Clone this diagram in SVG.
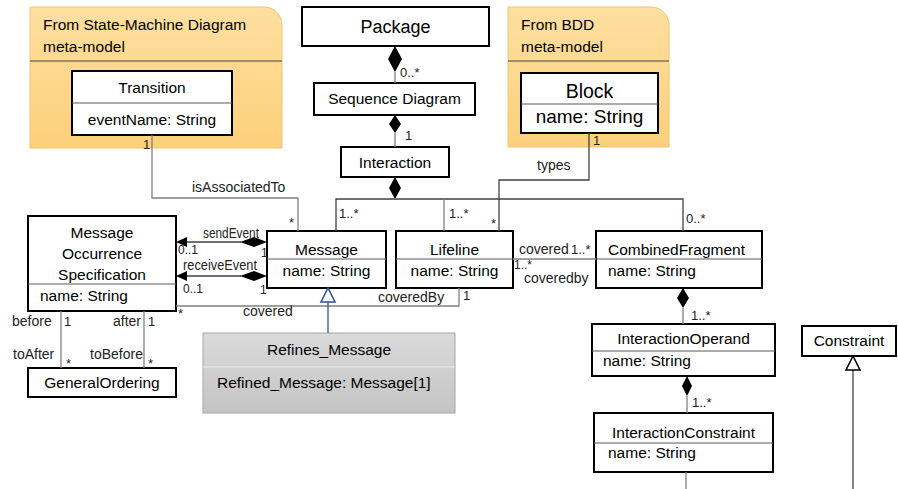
<svg xmlns="http://www.w3.org/2000/svg" width="898" height="489" viewBox="0 0 898 489">
<defs>
<linearGradient id="og" x1="0" y1="0" x2="0" y2="1">
<stop offset="0" stop-color="#fedfa0"/><stop offset="1" stop-color="#fcd07a"/>
</linearGradient>
<linearGradient id="gg" x1="0" y1="0" x2="0" y2="1">
<stop offset="0" stop-color="#dadada"/><stop offset="1" stop-color="#c4c4c4"/>
</linearGradient>
<style>
.cls{fill:#fff;stroke:#000;stroke-width:2}
.dv{stroke:#595959;stroke-width:1}
.pk{fill:url(#og);stroke:#f3c56c;stroke-width:1}
.t{font-family:"Liberation Sans",Arial,sans-serif;font-size:15.5px;fill:#000}
.c{text-anchor:middle}
.l{font-family:"Liberation Sans",Arial,sans-serif;font-size:14px;fill:#222}
.n{font-family:"Liberation Sans",Arial,sans-serif;font-size:13px;fill:#222}
.s{font-family:"Liberation Sans",Arial,sans-serif;font-size:12px;fill:#222}
.ln{fill:none;stroke:#808080;stroke-width:1.3}
.dk{stroke:#404040}
.dia{fill:#000;stroke:none}
</style>
</defs>

<g id="pkg-statemachine">
<path class="pk" d="M30,7 H264 A18,18 0 0 1 282,25 V148 H30 Z"/>
<line x1="30" y1="61" x2="282" y2="61" stroke="#404040" stroke-width="1"/>
<text class="t" x="43" y="30">From State-Machine Diagram</text>
<text class="t" x="43" y="52">meta-model</text>
</g>
<g id="pkg-bdd">
<path class="pk" d="M508,7 H651 A18,18 0 0 1 669,25 V147 H508 Z"/>
<line x1="508" y1="61" x2="669" y2="61" stroke="#404040" stroke-width="1"/>
<text class="t" x="521" y="30">From BDD</text>
<text class="t" x="521" y="52">meta-model</text>
</g>

<g id="Transition">
<rect class="cls" x="72" y="71" width="160" height="64"/>
<line class="dv" x1="72" y1="103" x2="232" y2="103"/>
<text class="t c" x="152" y="93">Transition</text>
<text class="t c" x="152" y="125">eventName: String</text>
</g>
<g id="Block">
<rect class="cls" x="521" y="73" width="137" height="60"/>
<line class="dv" x1="521" y1="104" x2="658" y2="104"/>
<text class="t c" x="589.5" y="98" style="font-size:19.5px">Block</text>
<text class="t c" x="589.5" y="123" style="font-size:19px">name: String</text>
</g>
<g id="Package">
<rect class="cls" x="302" y="7" width="187" height="39"/>
<text class="t c" x="395.5" y="33" style="font-size:18px">Package</text>
</g>
<g id="SequenceDiagram">
<rect class="cls" x="314" y="83" width="161" height="32"/>
<text class="t c" x="394.5" y="104">Sequence Diagram</text>
</g>
<g id="Interaction">
<rect class="cls" x="341" y="147" width="108" height="30"/>
<text class="t c" x="395" y="168">Interaction</text>
</g>
<g id="Message">
<rect class="cls" x="267" y="231" width="119" height="57"/>
<line class="dv" x1="267" y1="259" x2="386" y2="259"/>
<text class="t c" x="326.5" y="255">Message</text>
<text class="t c" x="326.5" y="276">name: String</text>
</g>
<g id="Lifeline">
<rect class="cls" x="396" y="231" width="117" height="57"/>
<line class="dv" x1="396" y1="259" x2="513" y2="259"/>
<text class="t c" x="454.5" y="255">Lifeline</text>
<text class="t c" x="454.5" y="276">name: String</text>
</g>
<g id="CombinedFragment">
<rect class="cls" x="596" y="231" width="166" height="57"/>
<line class="dv" x1="596" y1="259" x2="762" y2="259"/>
<text class="t" x="608" y="255">CombinedFragment</text>
<text class="t" x="608" y="276">name: String</text>
</g>
<g id="MessageOccurrenceSpecification">
<rect class="cls" x="28" y="216" width="148" height="95"/>
<line class="dv" x1="28" y1="284" x2="176" y2="284"/>
<text class="t c" x="102" y="238">Message</text>
<text class="t c" x="102" y="259">Occurrence</text>
<text class="t c" x="102" y="280">Specification</text>
<text class="t" x="40" y="301">name: String</text>
</g>
<g id="GeneralOrdering">
<rect class="cls" x="28" y="368" width="148" height="29"/>
<text class="t c" x="102" y="388">GeneralOrdering</text>
</g>
<g id="Refines_Message">
<rect x="203" y="333" width="252" height="80" fill="url(#gg)" stroke="#a6a6a6" stroke-width="1"/>
<line x1="203" y1="367" x2="455" y2="367" stroke="#ededed" stroke-width="1"/>
<text class="t c" x="329" y="355">Refines_Message</text>
<text class="t" x="217" y="388">Refined_Message: Message[1]</text>
</g>
<g id="InteractionOperand">
<rect class="cls" x="592" y="324" width="183" height="52"/>
<line class="dv" x1="592" y1="351" x2="775" y2="351"/>
<text class="t c" x="683.5" y="344">InteractionOperand</text>
<text class="t" x="603" y="366">name: String</text>
</g>
<g id="InteractionConstraint">
<rect class="cls" x="594" y="413" width="179" height="59"/>
<line class="dv" x1="594" y1="443" x2="773" y2="443"/>
<text class="t c" x="683.5" y="438">InteractionConstraint</text>
<text class="t" x="608" y="458">name: String</text>
</g>
<g id="Constraint">
<rect class="cls" x="802" y="326" width="94" height="30"/>
<text class="t c" x="849" y="346">Constraint</text>
</g>

<g id="connectors">
<!-- Package - Sequence Diagram -->
<line class="ln" x1="395" y1="72" x2="395" y2="83"/>
<polygon class="dia" points="395,46 402,59 395,72 388,59"/>
<text class="n" x="400" y="77">0..*</text>
<!-- Sequence Diagram - Interaction -->
<line class="ln" x1="395" y1="133" x2="395" y2="147"/>
<polygon class="dia" points="395,115 401,124 395,133 389,124"/>
<text class="n" x="405" y="140">1</text>
<!-- Interaction composition -->
<polygon class="dia" points="395,177 401,188 395,199 389,188"/>
<polyline class="ln dk" points="336,231 336,199 683,199 683,231"/>
<line class="ln" x1="444" y1="199" x2="444" y2="231"/>
<text class="n" x="339" y="218">1..*</text>
<text class="n" x="449" y="218">1..*</text>
<text class="n" x="686" y="223">0..*</text>
<!-- isAssociatedTo -->
<polyline class="ln" points="152,135 152,198 298,198 298,231"/>
<text class="n" x="143" y="149">1</text>
<text class="l" x="192" y="192">isAssociatedTo</text>
<text class="n" x="289" y="227">*</text>
<!-- types -->
<polyline class="ln dk" points="589,133 589,180 499,180 499,231"/>
<text class="n" x="593" y="145">1</text>
<text class="l" x="537" y="170">types</text>
<text class="n" x="491" y="228">*</text>
<!-- sendEvent -->
<line class="ln dk" x1="186" y1="242" x2="241" y2="242"/>
<polygon class="dia" points="176,242 187,237 187,247"/>
<polygon class="dia" points="240,242 254,237 267,242 254,247"/>
<text class="l" x="203" y="238" textLength="56" lengthAdjust="spacingAndGlyphs">sendEvent</text>
<text class="s" x="178" y="254">0..1</text>
<text class="s" x="261" y="257">1</text>
<!-- receiveEvent -->
<line class="ln dk" x1="186" y1="276" x2="241" y2="276"/>
<polygon class="dia" points="176,276 187,271 187,281"/>
<polygon class="dia" points="240,276 254,271 267,276 254,281"/>
<text class="l" x="183" y="270" textLength="74" lengthAdjust="spacingAndGlyphs">receiveEvent</text>
<text class="s" x="183" y="293">0..1</text>
<text class="s" x="260" y="294">1</text>
<!-- covered / coveredBy -->
<polyline class="ln" points="176,306 459,306 459,288"/>
<text class="n" x="178" y="318">*</text>
<text class="l" x="243" y="316">covered</text>
<text class="l" x="378" y="302">coveredBy</text>
<text class="n" x="463" y="300">1</text>
<!-- before / after -->
<line class="ln" x1="61" y1="311" x2="61" y2="368"/>
<line class="ln" x1="144" y1="311" x2="144" y2="368"/>
<text class="l" x="12" y="326">before</text>
<text class="n" x="64" y="326">1</text>
<text class="l" x="13" y="359">toAfter</text>
<text class="n" x="66" y="368">*</text>
<text class="l" x="113" y="326">after</text>
<text class="n" x="148" y="326">1</text>
<text class="l" x="90" y="359">toBefore</text>
<text class="n" x="148" y="368">*</text>
<!-- Lifeline - CombinedFragment -->
<line class="ln" x1="513" y1="259" x2="596" y2="259"/>
<text class="l" x="519" y="254">covered</text>
<text class="n" x="571" y="254">1..*</text>
<text class="s" x="514" y="269">1..*</text>
<text class="l" x="524" y="283">coveredby</text>
<!-- Refines_Message generalizes Message -->
<line x1="328" y1="302" x2="328" y2="333" stroke="#2f5597" stroke-width="1.3"/>
<polygon points="328,288 321,302 335,302" fill="#fff" stroke="#2f5597" stroke-width="1.6"/>
<!-- CombinedFragment - InteractionOperand -->
<line class="ln" x1="683" y1="308" x2="683" y2="324"/>
<polygon class="dia" points="683,288 689,298 683,308 677,298"/>
<text class="n" x="691" y="320">1..*</text>
<!-- InteractionOperand - InteractionConstraint -->
<line class="ln" x1="687" y1="396" x2="687" y2="413"/>
<polygon class="dia" points="687,376 692,386 687,396 682,386"/>
<text class="n" x="692" y="407">1..*</text>
<!-- InteractionConstraint down -->
<line class="ln" x1="686" y1="472" x2="686" y2="489"/>
<!-- Constraint generalization -->
<line class="ln dk" x1="853" y1="370" x2="853" y2="489"/>
<polygon points="853,356 846,370 860,370" fill="#fff" stroke="#000" stroke-width="1.6"/>
</g>
</svg>
